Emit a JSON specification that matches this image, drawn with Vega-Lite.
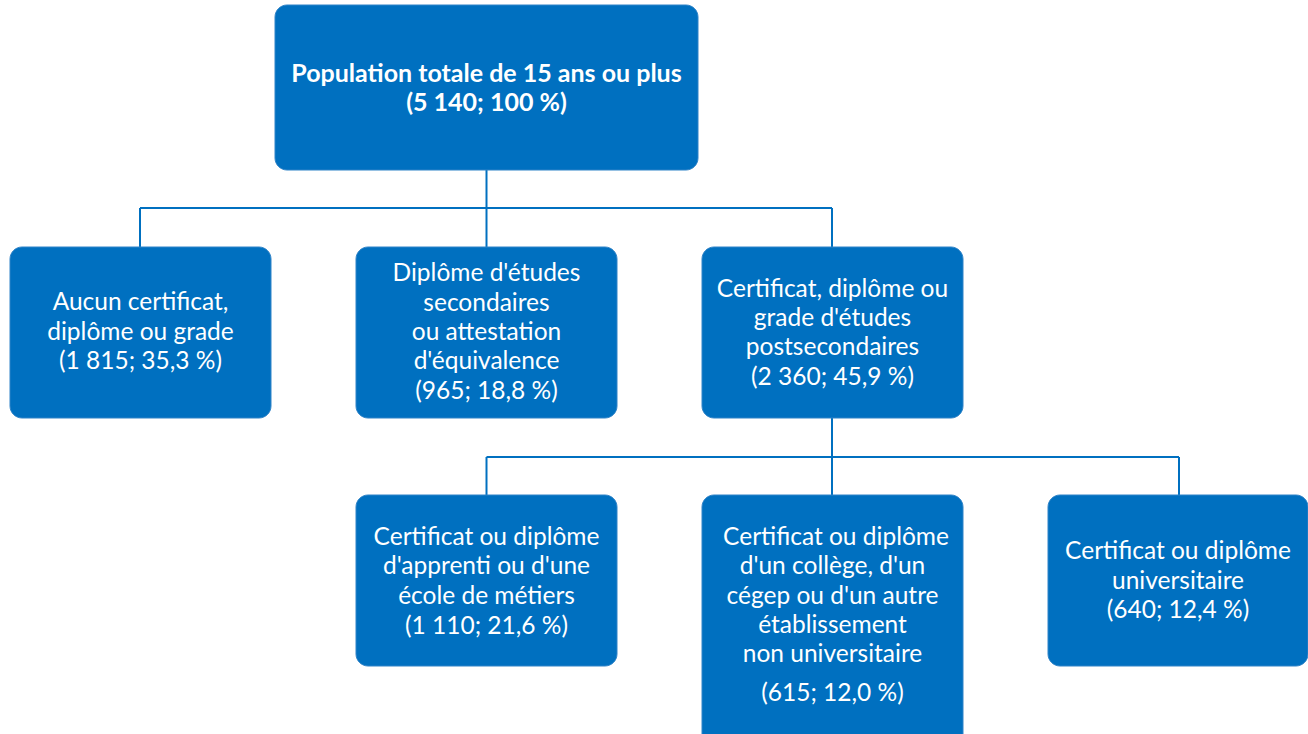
{
  "$schema": "https://vega.github.io/schema/vega-lite/v6.json",
  "width": 1308,
  "height": 734,
  "padding": 0,
  "autosize": {"type": "fit", "contains": "padding"},
  "background": "white",
  "config": {"view": {"stroke": null}},
  "datasets": {
    "boxes": [
      {"id": "top", "x1": 275, "x2": 698, "y1": 5, "y2": 170},
      {"id": "A", "x1": 10, "x2": 271, "y1": 247, "y2": 418},
      {"id": "B", "x1": 356, "x2": 617, "y1": 247, "y2": 418},
      {"id": "C", "x1": 702, "x2": 963, "y1": 247, "y2": 418},
      {"id": "D", "x1": 356, "x2": 617, "y1": 495, "y2": 666},
      {"id": "E", "x1": 702, "x2": 963, "y1": 495, "y2": 760},
      {"id": "F", "x1": 1048, "x2": 1308, "y1": 495, "y2": 666}
    ],
    "links": [
      {"x1": 486.5, "x2": 486.5, "y1": 170, "y2": 208},
      {"x1": 140, "x2": 832, "y1": 208, "y2": 208},
      {"x1": 140, "x2": 140, "y1": 208, "y2": 247},
      {"x1": 486.5, "x2": 486.5, "y1": 208, "y2": 247},
      {"x1": 832, "x2": 832, "y1": 208, "y2": 247},
      {"x1": 832, "x2": 832, "y1": 418, "y2": 457},
      {"x1": 486.5, "x2": 1179, "y1": 457, "y2": 457},
      {"x1": 486.5, "x2": 486.5, "y1": 457, "y2": 495},
      {"x1": 832, "x2": 832, "y1": 457, "y2": 495},
      {"x1": 1179, "x2": 1179, "y1": 457, "y2": 495}
    ],
    "titles": [
      {"x": 486.5, "y": 74, "text": "Population totale de 15 ans ou plus"},
      {"x": 486.5, "y": 103, "text": "(5 140; 100 %)"}
    ],
    "labels": [
      {"x": 140.5, "y": 303, "text": "Aucun certificat,"},
      {"x": 140.5, "y": 333, "text": "diplôme ou grade"},
      {"x": 140.5, "y": 362, "text": "(1 815; 35,3 %)"},
      {"x": 486.5, "y": 274, "text": "Diplôme d'études"},
      {"x": 486.5, "y": 304, "text": "secondaires"},
      {"x": 486.5, "y": 333, "text": "ou attestation"},
      {"x": 486.5, "y": 362, "text": "d'équivalence"},
      {"x": 486.5, "y": 392, "text": "(965; 18,8 %)"},
      {"x": 832.5, "y": 290, "text": "Certificat, diplôme ou"},
      {"x": 832.5, "y": 319, "text": "grade d'études"},
      {"x": 832.5, "y": 348, "text": "postsecondaires"},
      {"x": 832.5, "y": 378, "text": "(2 360; 45,9 %)"},
      {"x": 486.5, "y": 538, "text": "Certificat ou diplôme"},
      {"x": 486.5, "y": 567, "text": "d'apprenti ou d'une"},
      {"x": 486.5, "y": 597, "text": "école de métiers"},
      {"x": 486.5, "y": 627, "text": "(1 110; 21,6 %)"},
      {"x": 836, "y": 538, "text": "Certificat ou diplôme"},
      {"x": 832.5, "y": 567, "text": "d'un collège, d'un"},
      {"x": 832.5, "y": 597, "text": "cégep ou d'un autre"},
      {"x": 832.5, "y": 626, "text": "établissement"},
      {"x": 832.5, "y": 655, "text": "non universitaire"},
      {"x": 832.5, "y": 694, "text": "(615; 12,0 %)"},
      {"x": 1178, "y": 552, "text": "Certificat ou diplôme"},
      {"x": 1178, "y": 582, "text": "universitaire"},
      {"x": 1178, "y": 611, "text": "(640; 12,4 %)"}
    ]
  },
  "resolve": {"scale": {"x": "shared", "y": "shared"}},
  "layer": [
    {
      "data": {"name": "links"},
      "mark": {"type": "rule", "color": "#0070C0", "strokeWidth": 2},
      "encoding": {
        "x": {"field": "x1", "type": "quantitative", "scale": {"domain": [0, 1308], "nice": false, "zero": false}, "axis": null},
        "x2": {"field": "x2"},
        "y": {"field": "y1", "type": "quantitative", "scale": {"domain": [0, 734], "reverse": true, "nice": false, "zero": false}, "axis": null},
        "y2": {"field": "y2"}
      }
    },
    {
      "data": {"name": "boxes"},
      "mark": {"type": "rect", "color": "#0070C0", "cornerRadius": 12, "clip": true, "stroke": "#2F83C8", "strokeWidth": 1},
      "encoding": {
        "x": {"field": "x1", "type": "quantitative", "axis": null},
        "x2": {"field": "x2"},
        "y": {"field": "y1", "type": "quantitative", "axis": null},
        "y2": {"field": "y2"}
      }
    },
    {
      "data": {"name": "titles"},
      "mark": {"type": "text", "color": "white", "font": "Lato", "fontSize": 25, "fontWeight": "bold", "align": "center", "baseline": "middle"},
      "encoding": {
        "x": {"field": "x", "type": "quantitative", "axis": null},
        "y": {"field": "y", "type": "quantitative", "axis": null},
        "text": {"field": "text"}
      }
    },
    {
      "data": {"name": "labels"},
      "mark": {"type": "text", "color": "white", "font": "Lato", "fontSize": 24.5, "align": "center", "baseline": "middle"},
      "encoding": {
        "x": {"field": "x", "type": "quantitative", "axis": null},
        "y": {"field": "y", "type": "quantitative", "axis": null},
        "text": {"field": "text"}
      }
    }
  ]
}
